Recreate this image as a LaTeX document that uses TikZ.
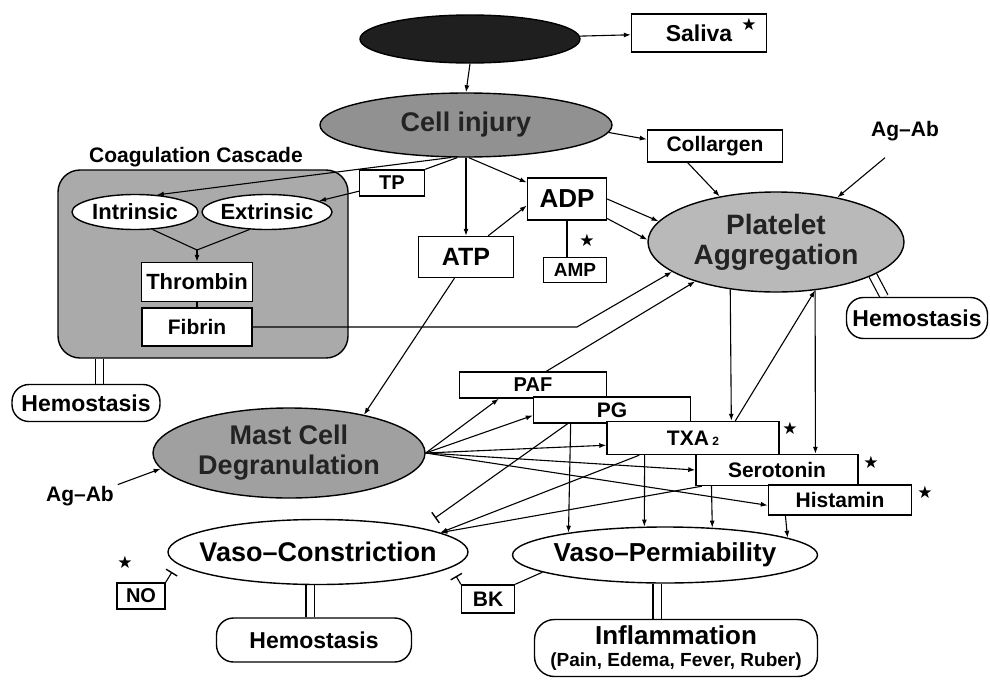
\documentclass[tikz,border=0pt]{standalone}
\usepackage{fontspec}
\setmainfont{Liberation Sans}
\newfontfamily\symf{DejaVu Sans}
\usetikzlibrary{shapes.geometric,arrows.meta,calc}
\pgfdeclarelayer{background}
\pgfsetlayers{background,main}
\newcommand\fsz[1]{\fontsize{#1}{#1}\selectfont\bfseries}
\definecolor{gcell}{RGB}{145,145,145}
\definecolor{gplat}{RGB}{185,185,185}
\definecolor{gmast}{RGB}{160,160,160}
\definecolor{gcont}{RGB}{170,170,170}
\definecolor{dtext}{RGB}{35,35,35}
\begin{document}
\begin{tikzpicture}[x=1pt,y=-1pt,
  box/.style={draw, rectangle, line width=1.4pt, fill=white, inner sep=0pt},
  ell/.style={draw, ellipse, line width=1.4pt, inner sep=0pt},
  pillbox/.style={draw, rectangle, rounded corners=17pt, line width=1.4pt, fill=white, inner sep=0pt},
  arr/.style={line width=1.1pt, -{Latex[length=7pt,width=5pt]}},
  ln/.style={line width=1.1pt},
  inh/.style={line width=1.1pt, -{Bar[width=13pt,line width=1.4pt]}},
  dbl/.style={line width=1.2pt, double=white, double distance=7pt},
  starmark/.style={font={\symf\fontsize{17}{17}\selectfont}, inner sep=0pt},
  lbl/.style={inner sep=0pt}]
\useasboundingbox (0,0) rectangle (990,680);
\begin{pgfonlayer}{background}
\fill[white] (0,0) rectangle (990,680);
\end{pgfonlayer}

% ---- top
\node[ell, fill=black!88, minimum width=220pt, minimum height=48pt] (blk) at (470,39) {};
\node[box, minimum width=135pt, minimum height=38pt, font={\fsz{23}}] (saliva) at (699,33) {Saliva};
\node[starmark] (s1) at (749,24) {★};
\node[ell, fill=gcell, minimum width=292pt, minimum height=64pt, font={\fsz{27}}, text=dtext] (cell) at (466,125) {\makebox[0pt]{Cell injury}};
\node[box, minimum width=135pt, minimum height=32pt, font={\fsz{21}}] (coll) at (715,146) {Collargen};
\node[lbl, font={\fsz{21}}] (agab1) at (905,131) {Ag–Ab};
\node[ell, fill=gplat, minimum width=256pt, minimum height=100pt, align=center, text=dtext, font={\fontsize{28}{30}\selectfont\bfseries}] (plat) at (776,242) {Platelet\\Aggregation};
\node[box, minimum width=79pt, minimum height=42pt, font={\fsz{26}}] (adp) at (567,199) {ADP};
\node[box, minimum width=63pt, minimum height=25pt, font={\fsz{19}}] (amp) at (575,270) {AMP};
\node[starmark] (s2) at (587,240) {★};
\node[box, minimum width=95pt, minimum height=41pt, font={\fsz{25}}] (atp) at (466,257) {ATP};
\node[box, minimum width=65pt, minimum height=26pt, font={\fsz{20}}] (tp) at (392,183) {TP};

% ---- coagulation cascade
\node[lbl, font={\fsz{21}}] (coag) at (196,157) {Coagulation Cascade};
\node[draw, rectangle, rounded corners=22pt, line width=1.4pt, fill=gcont, minimum width=290pt, minimum height=188pt, inner sep=0pt] (cont) at (203,264) {};
\node[ell, fill=white, minimum width=126pt, minimum height=35pt, font={\fsz{22}}] (intr) at (135,212) {\makebox[0pt]{Intrinsic}};
\node[ell, fill=white, minimum width=130pt, minimum height=35pt, font={\fsz{22}}] (extr) at (267,212) {\makebox[0pt]{Extrinsic}};
\node[box, minimum width=111pt, minimum height=39pt, font={\fsz{22}}] (thr) at (197,282) {Thrombin};
\node[box, minimum width=110pt, minimum height=38pt, font={\fsz{21}}] (fib) at (197,327) {Fibrin};
\node[pillbox, minimum width=148pt, minimum height=37pt, font={\fsz{23}}] (hemL) at (86,403) {Hemostasis};
\node[pillbox, minimum width=141pt, minimum height=41pt, font={\fsz{23}}] (hemR) at (917,318) {Hemostasis};

% ---- mast cell and lower part
\node[ell, fill=gmast, minimum width=272pt, minimum height=90pt, align=center, text=dtext, font={\fontsize{27}{30}\selectfont\bfseries}] (mast) at (289,453) {Mast Cell\\Degranulation};
\node[lbl, font={\fsz{21}}] (agab2) at (80,496) {Ag–Ab};
\node[ell, fill=white, minimum width=300pt, minimum height=65pt, font={\fsz{27}}] (vc) at (318,552) {\makebox[0pt]{Vaso–Constriction}};
\node[pillbox, minimum width=195pt, minimum height=44pt, font={\fsz{23}}] (hemB) at (314,640) {Hemostasis};
\node[box, minimum width=48pt, minimum height=26pt, font={\fsz{20}}] (no) at (141,596) {NO};
\node[starmark] (s3) at (125,562) {★};
\node[box, minimum width=53pt, minimum height=28pt, font={\fsz{21}}] (bk) at (488,599) {BK};
\node[ell, fill=white, minimum width=305pt, minimum height=56pt, font={\fsz{26}}] (vp) at (665,555) {\makebox[0pt]{Vaso–Permiability}};
\node[pillbox, rounded corners=20pt, minimum width=283pt, minimum height=57pt, align=center, font={\fontsize{19}{22}\selectfont\bfseries}] (infl) at (676,648) {{\fontsize{26}{26}\selectfont Inflammation}\\(Pain, Edema, Fever, Ruber)};

% ---- mediators
\node[box, minimum width=147pt, minimum height=26pt, font={\fsz{20}}] (paf) at (533,385) {PAF};
\node[box, minimum width=157pt, minimum height=26pt, font={\fsz{21}}] (pg) at (612,410) {PG};
\node[box, minimum width=172pt, minimum height=33pt, font={\fsz{21}}] (txa) at (693,438) {TXA\,{\fsz{12}2}};
\node[box, minimum width=162pt, minimum height=31pt, font={\fsz{21}}] (ser) at (777,470) {Serotonin};
\node[box, minimum width=143pt, minimum height=30pt, font={\fsz{21}}] (his) at (840,500) {Histamin};
\node[starmark] (s4) at (790,428) {★};
\node[starmark] (s5) at (871,462) {★};
\node[starmark] (s6) at (925,492) {★};

% ---- helper coordinates
\coordinate (j1) at (197,250);
\coordinate (fk) at (577,327);
\coordinate (pgT) at (435,518);
\coordinate (noT) at (172,572);
\coordinate (bkT) at (456,576);
\coordinate (c1) at ($(cont.south west)!0.145!(cont.south east)$);
\coordinate (c2) at ([xshift=-8pt]vc.south);
\coordinate (c3) at ([xshift=-8pt]vp.south);

% ---- double connectors
\begin{pgfonlayer}{background}
\draw[dbl] (plat.341) -- ($(hemR.north west)!0.27!(hemR.north east)$);
\draw[dbl] (c1) -- (c1 |- hemL.north);
\draw[dbl] (c2) -- (c2 |- hemB.north);
\draw[dbl] (c3) -- (c3 |- infl.north);
\end{pgfonlayer}

% ---- connectors
\draw[arr] (blk) -- (saliva);
\draw[arr] (blk.south) -- (cell.north);
\draw[arr] (cell.-3) -- ($(coll.north west)!0.3!(coll.south west)$);
\draw[arr] ($(coll.south west)!0.3!(coll.south east)$) -- (plat.141);
\draw[arr, shorten <=26pt] (agab1.south) -- (plat.36);
\draw[arr] (cell.-85) -- ($(adp.north west)!0.12!(adp.south west)$);
\draw[arr] (cell.south) -- (atp.north);
\draw[arr] ($(atp.north west)!0.73!(atp.north east)$) -- ($(adp.north west)!0.65!(adp.south west)$);
\draw[ln] (adp.south) -- (adp.south |- amp.north);
\draw[arr] ($(adp.north east)!0.5!(adp.south east)$) -- (plat.170);
\draw[arr] ($(adp.north east)!0.95!(adp.south east)$) -- (plat.179);
\draw[ln] (cell.-105) -- (tp.north east);
\draw[arr] ($(tp.north west)!0.8!(tp.south west)$) -- (extr.12);
\draw[arr] (cell.-115) -- (intr.38);
\draw[ln] (intr.-45) -- (j1);
\draw[ln] (extr.-135) -- (j1);
\draw[arr] (j1) -- (thr.north);
\draw[ln] (thr.south) -- (fib.north);
\draw[arr] (fib.east) -- (fk) -- (plat.196);
\draw[arr] ($(paf.north west)!0.59!(paf.north east)$) -- (plat.206);
\draw[arr] ($(atp.south west)!0.38!(atp.south east)$) -- (mast.27);
\draw[arr, shorten <=4pt] (agab2.north east) -- (mast.187);

\draw[arr] (mast.east) -- ($(paf.south west)!0.27!(paf.south east)$);
\draw[arr] (mast.east) -- ($(pg.north west)!0.7!(pg.south west)$);
\draw[arr] (mast.east) -- ($(txa.north west)!0.71!(txa.south west)$);
\draw[arr] (mast.east) -- (ser.west);
\draw[arr] (mast.east) -- ($(his.north west)!0.67!(his.south west)$);

\draw[inh] ($(pg.south west)!0.22!(pg.south east)$) -- (pgT);
\draw[arr] ($(txa.south west)!0.19!(txa.south east)$) -- (vc.9);
\draw[arr] ($(ser.south west)!0.04!(ser.south east)$) -- (vc.9);

\draw[arr] ($(pg.south west)!0.239!(pg.south east)$) -- (vp.167);
\draw[arr] ($(txa.south west)!0.221!(txa.south east)$) -- (vp.126);
\draw[arr] ($(ser.south west)!0.099!(ser.south east)$) -- (vp.30);
\draw[arr] ($(his.south west)!0.122!(his.south east)$) -- (vp.8);

\draw[arr] (plat.226) -- ($(txa.north west)!0.721!(txa.north east)$);
\draw[arr] ($(txa.north west)!0.744!(txa.north east)$) -- (plat.309);
\draw[arr] (plat.309) -- ($(ser.north west)!0.735!(ser.north east)$);

\draw[inh] (no.north east) -- (noT);
\draw[inh] (bk.north west) -- (bkT);
\draw[ln] (bk.north east) -- (vp.188);
\end{tikzpicture}
\end{document}
